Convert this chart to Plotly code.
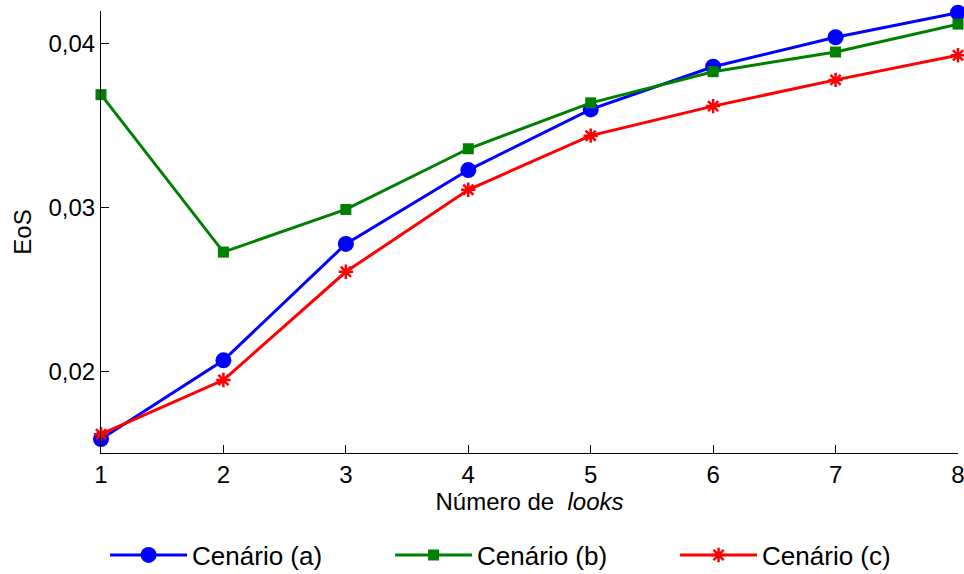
import plotly.graph_objects as go

looks = [1, 2, 3, 4, 5, 6, 7, 8]
cen_a = [0.0159, 0.0207, 0.0278, 0.0323, 0.0360, 0.0386, 0.0404, 0.0419]
cen_b = [0.0369, 0.0273, 0.0299, 0.0336, 0.0364, 0.0383, 0.0395, 0.0412]
cen_c = [0.0162, 0.0195, 0.0261, 0.0311, 0.0344, 0.0362, 0.0378, 0.0393]
names = ["Cenário (a)", "Cenário (b)", "Cenário (c)"]

fig = go.Figure()
fig.add_trace(go.Scatter(x=looks, y=cen_a, name=names[0], mode="lines+markers",
                         cliponaxis=False,
                         line=dict(color="#0000ff", width=3),
                         marker=dict(symbol="circle", size=16, color="#0000ff")))
fig.add_trace(go.Scatter(x=looks, y=cen_b, name=names[1], mode="lines+markers",
                         cliponaxis=False,
                         line=dict(color="#008000", width=3),
                         marker=dict(symbol="square", size=11, color="#008000")))
fig.add_trace(go.Scatter(x=looks, y=cen_c, name=names[2], mode="lines+markers",
                         cliponaxis=False,
                         line=dict(color="#ff0000", width=3),
                         marker=dict(symbol="asterisk-open", size=12, color="#ff0000",
                                     line=dict(color="#ff0000", width=2.5))))

font = dict(family="Liberation Sans, Arial, sans-serif", size=24, color="black")
fig.update_layout(
    width=964, height=574,
    margin=dict(l=101, r=6, t=11, b=121),
    plot_bgcolor="white", paper_bgcolor="white",
    font=font,
    separators=",.",
    showlegend=True,
    legend=dict(orientation="h", x=0.109, xanchor="left", xref="container",
                y=0.033, yanchor="middle", yref="container",
                entrywidth=193, entrywidthmode="pixels",
                font=dict(size=26), itemwidth=77),
    xaxis=dict(range=[1, 8], tickvals=looks, ticks="inside", ticklen=8,
               tickcolor="black", showline=True, linecolor="black", linewidth=1,
               showgrid=False, zeroline=False, automargin=False,
               tickfont=dict(size=24), ticklabeloverflow="allow",
               title=dict(text="Número de  <i>looks</i>", standoff=5,
                          font=dict(size=24))),
    yaxis=dict(range=[0.01505, 0.042], tickvals=[0.02, 0.03, 0.04], tickformat=".2f",
               ticks="inside", ticklen=8, tickcolor="black", showline=True,
               linecolor="black", linewidth=1, showgrid=False, zeroline=False,
               automargin=False, tickfont=dict(size=24),
               title=dict(text="EoS", standoff=10, font=dict(size=24))),
)
fig.write_html("out.html", config={"displayModeBar": False},
               post_script="document.body.style.margin='0';")
